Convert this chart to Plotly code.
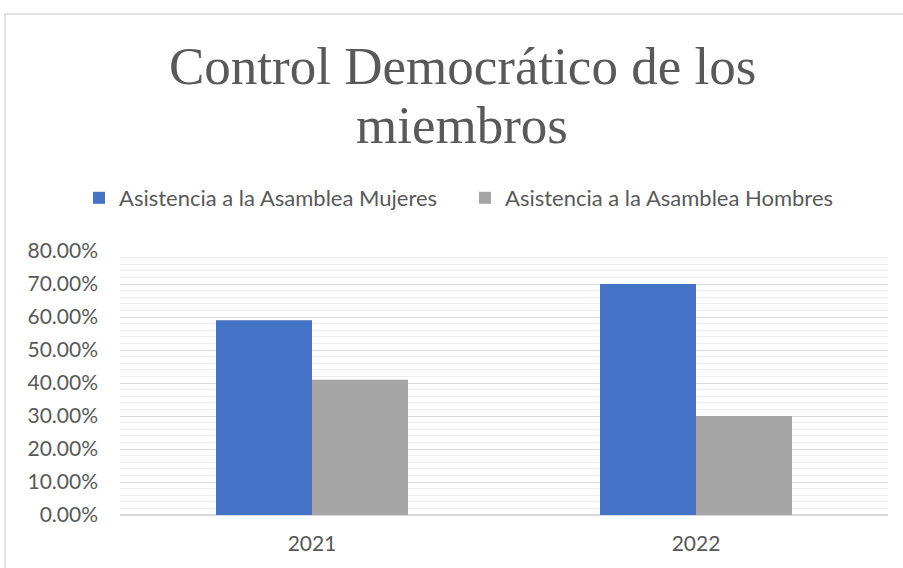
import plotly.graph_objects as go

years = ["2021", "2022"]
mujeres = [0.59, 0.70]
hombres = [0.41, 0.30]
series_names = ["Asistencia a la Asamblea Mujeres", "Asistencia a la Asamblea Hombres"]
colors = ["#4472C4", "#A5A5A5"]
title_lines = ["Control Democrático de los", "miembros"]

W, H = 903, 568
L, R, T, B = 120, 15, 251, 53
pw, ph = W - L - R, H - T - B


def py(pix):
    # pixel row -> paper y
    return (H - B - pix) / ph


def px_(pix):
    return (pix - L) / pw


fig = go.Figure()
legend_ids = ["legend", "legend2"]
for name, vals, col, lg in zip(series_names, [mujeres, hombres], colors, legend_ids):
    fig.add_trace(go.Bar(x=years, y=vals, name=name, legend=lg,
                         marker=dict(color=col, line=dict(width=0))))

legend_style = dict(orientation="h", yanchor="middle", y=py(198), xanchor="left",
                    font=dict(size=22, color="#595959"), bgcolor="rgba(0,0,0,0)")

fig.update_layout(
    width=W, height=H,
    margin=dict(l=L, r=R, t=T, b=B),
    paper_bgcolor="white", plot_bgcolor="white",
    barmode="group", bargap=0.5, bargroupgap=0,
    font=dict(family="Lato, Carlito, sans-serif", color="#595959", size=21),
    legend=dict(x=px_(79), **legend_style),
    legend2=dict(x=px_(465), **legend_style),
    showlegend=True,
    xaxis=dict(showgrid=False, showline=False, ticks="", tickfont=dict(size=21), ticklabelstandoff=14),
    yaxis=dict(range=[0, 0.8], dtick=0.1, tickformat=".2%", showgrid=True, gridcolor="#d9d9d9",
               gridwidth=1, zeroline=True, zerolinecolor="#d9d9d9", zerolinewidth=1.5,
               ticks="", tickfont=dict(size=21), ticklabelstandoff=21,
               minor=dict(dtick=0.02, showgrid=True, gridcolor="#ededed", gridwidth=1)),
)

# title, two lines placed separately
for txt, yc in zip(title_lines, [66, 125]):
    fig.add_annotation(text=txt, xref="paper", yref="paper", x=px_(462), y=py(yc),
                       xanchor="center", yanchor="middle", showarrow=False,
                       font=dict(family="Liberation Serif, Times New Roman, serif", size=53, color="#595959"))

# chart border
fig.add_shape(type="rect", xref="paper", yref="paper",
              x0=px_(5), x1=px_(910), y0=py(575), y1=py(14),
              line=dict(color="#d9d9d9", width=1.5), fillcolor="rgba(0,0,0,0)", layer="below")

fig.write_html("out.html", config={"displayModeBar": False},
               post_script="document.body.style.margin='0';")
